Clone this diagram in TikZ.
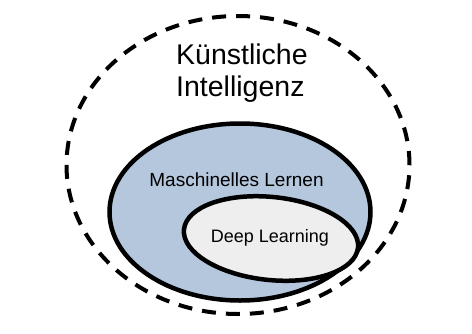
\documentclass[tikz,border=0pt]{standalone}
\usepackage{fontspec}
\setmainfont{Liberation Sans}
\usetikzlibrary{shapes.geometric}
\definecolor{mlblue}{HTML}{B4C7DC}
\definecolor{dlgray}{HTML}{EEEEEE}
\begin{document}
\begin{tikzpicture}[x=1pt,y=-1pt,
  ell/.style={ellipse,draw=black,inner sep=0pt,line width=4.5pt},
  lbl/.style={inner sep=0pt,text=black}]
\useasboundingbox (0,0) rectangle (472,333);
\node[ell,dash pattern=on 14pt off 10pt,line width=4pt,minimum width=343pt,minimum height=298pt] (ai) at (238,165) {};
\node[ell,fill=mlblue,minimum width=261pt,minimum height=177pt] (ml) at (240,212) {};
\node[ell,fill=dlgray,minimum width=175pt,minimum height=83pt,rotate=-6] (dl) at (271,238.5) {};
\node[lbl,align=left,anchor=north west,font=\fontsize{28.5}{32}\selectfont] (ait) at (176,44) {Künstliche\\Intelligenz};
\node[lbl,font=\fontsize{19}{21}\selectfont] (mlt) at (236.5,180) {Maschinelles Lernen};
\node[lbl,font=\fontsize{18}{20}\selectfont] (dlt) at (270,238) {Deep Learning};
\end{tikzpicture}
\end{document}
